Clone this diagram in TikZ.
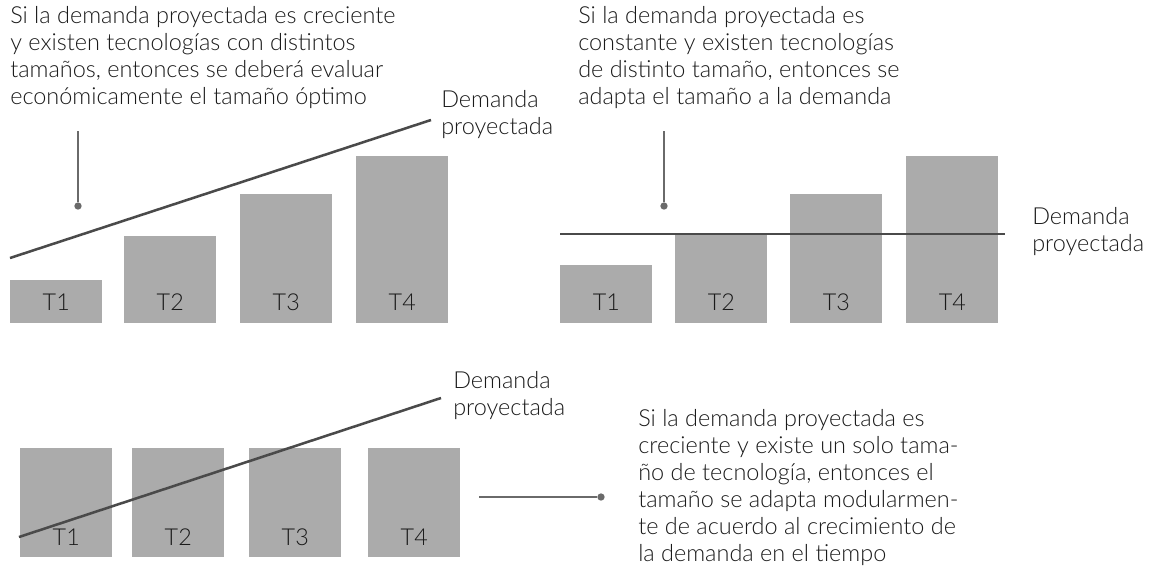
\documentclass[tikz,border=0pt]{standalone}
\usepackage{fontspec}
\IfFontExistsTF{Lato Light}{\setmainfont{Lato Light}}{\setmainfont{Lato}}
\usetikzlibrary{positioning}
\definecolor{barfill}{HTML}{ABABAB}
\definecolor{demline}{HTML}{4A4A4A}
\definecolor{callout}{HTML}{6A6A6A}
\definecolor{txt}{HTML}{1A1A1A}
\tikzset{
  bar/.style={fill=barfill,minimum width=69pt,inner sep=0pt,anchor=south west},
  tlabel/.style={text=txt,font=\fontsize{17.5}{20}\selectfont},
  note/.style={text=txt,align=left,inner sep=0pt,anchor=north west,font=\fontsize{17.6}{20.25}\selectfont},
  demand/.style={draw=demline,line width=1.9pt},
  pointer/.style={draw=callout,line width=1.2pt},
  dot/.style={circle,fill=callout,inner sep=0pt,minimum size=5.5pt}
}
\begin{document}
\begin{tikzpicture}[x=0.75pt,y=-0.75pt]
\useasboundingbox (0,0) rectangle (1154,576);
% panel 1: creciente, distintos tamanos
\foreach \n/\x/\t in {1/10/280,2/124/236,3/240/194,4/356/156}
  \node[bar,minimum height={(323-\t)*0.75pt},label={[tlabel,anchor=center,yshift=15.75pt]south:T\n}] (a\n) at (\x,323) {};
\coordinate (ademA) at (10,258);
\coordinate (ademB) at (431,120);
\draw[demand] (ademA) -- (ademB);
\node[note] (adem) at (441,90) {Demanda\\proyectada};
\node[note] (atext) at (10,6.5) {Si la demanda proyectada es creciente\\y existen tecnologías con distintos\\tamaños, entonces se deberá evaluar\\económicamente el tamaño óptimo};
\node[dot] (adot) at (78,206) {};
\coordinate (atop) at (78,131);
\draw[pointer] (atop) -- (adot);
% panel 2: constante
\foreach \n/\x/\t in {1/560/265,2/675/233,3/790/194,4/906/156}
  \node[bar,minimum height={(323-\t)*0.75pt},label={[tlabel,anchor=center,yshift=15.75pt]south:T\n}] (b\n) at (\x,323) {};
\coordinate (bdemA) at (560,234);
\coordinate (bdemB) at (1005,234);
\draw[demand] (bdemA) -- (bdemB);
\node[note] (bdem) at (1032,207.5) {Demanda\\proyectada};
\node[note] (btext) at (578,6.5) {Si la demanda proyectada es\\constante y existen tecnologías\\de distinto tamaño, entonces se\\adapta el tamaño a la demanda};
\node[dot] (bdot) at (664,206) {};
\coordinate (btop) at (664,131);
\draw[pointer] (btop) -- (bdot);
% panel 3: un solo tamano, modular
\foreach \n/\x in {1/20,2/132,3/249,4/368}
  \node[bar,minimum height={109*0.75pt},label={[tlabel,anchor=center,yshift=15pt]south:T\n}] (c\n) at (\x,557) {};
\coordinate (cdemA) at (19,537);
\coordinate (cdemB) at (441,398);
\draw[demand] (cdemA) -- (cdemB);
\node[note] (cdem) at (453,371) {Demanda\\proyectada};
\node[note] (ctext) at (638,409.5) {Si la demanda proyectada es\\creciente y existe un solo tama-\\ño de tecnología, entonces el\\tamaño se adapta modularmen-\\te de acuerdo al crecimiento de\\la demanda en el tiempo};
\node[dot] (cdot) at (601,497) {};
\coordinate (cend) at (479,497);
\draw[pointer] (cend) -- (cdot);
\end{tikzpicture}
\end{document}
